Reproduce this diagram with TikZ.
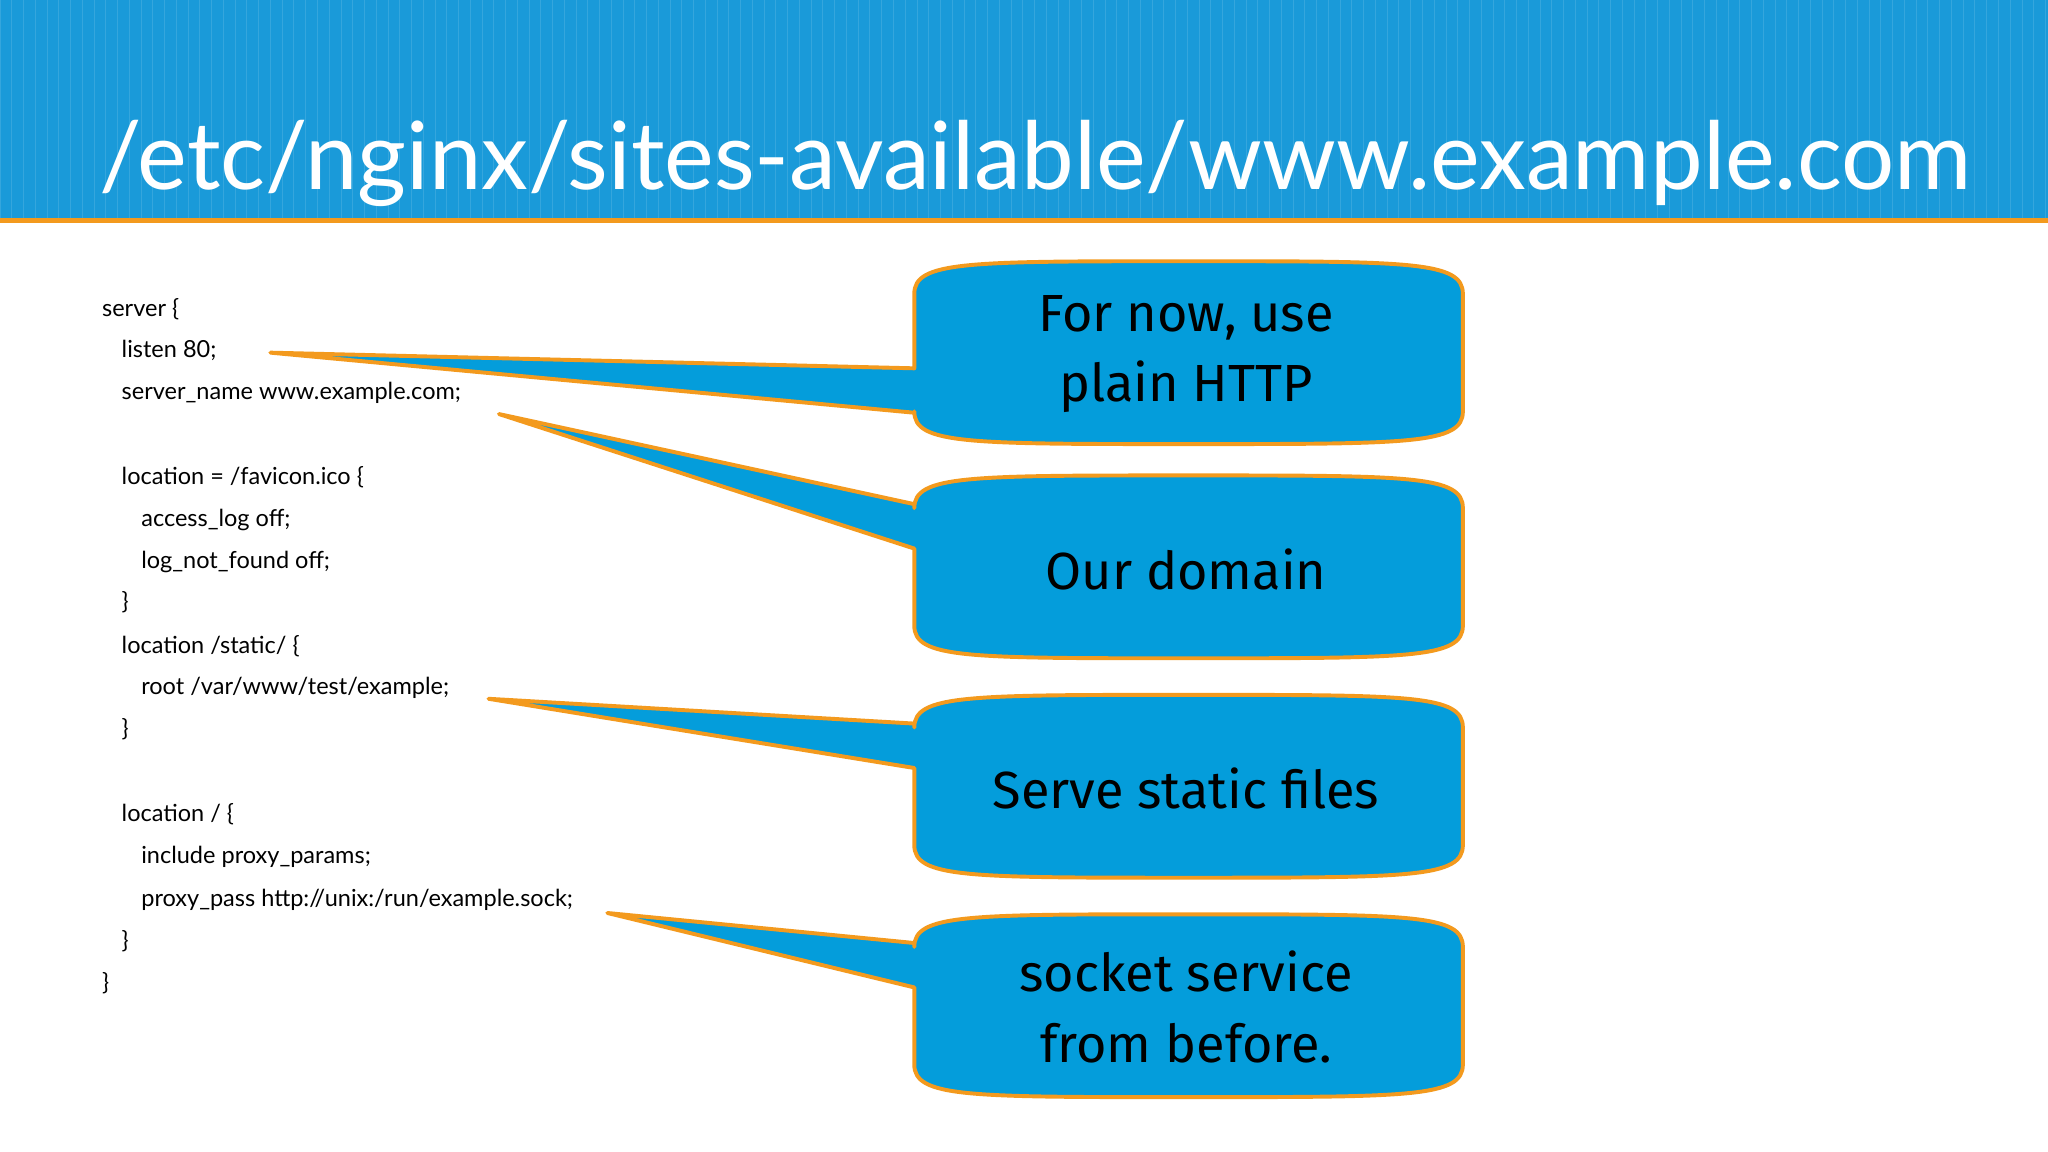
\documentclass[tikz,border=0pt]{standalone}
\usepackage{fontspec}
\setmainfont{Lato}
\newfontfamily\boxfont{Fira Sans}
\definecolor{hdr}{HTML}{1A9AD9}
\definecolor{bub}{HTML}{049DDB}
\definecolor{org}{HTML}{F39A1E}
\tikzset{
 code/.style={anchor=base west,font=\fontsize{18}{20}\selectfont,inner sep=0pt},
 bubble/.style={fill=bub,draw=org,line width=3pt,line join=round},
 btext/.style={font=\boxfont\fontsize{40}{54}\selectfont,align=center,text=black},
}
\newcommand{\callout}[5]{% y top, y bottom, tail y1, tail y2, tip
 \path[bubble] (700,#1+25) .. controls (700,#1) and (740,#1) .. (910,#1)
  .. controls (1080,#1) and (1120,#1) .. (1120,#1+25) -- (1120,#2-25)
  .. controls (1120,#2) and (1080,#2) .. (910,#2)
  .. controls (740,#2) and (700,#2) .. (700,#2-25) -- (700,#4) -- #5 -- (700,#3) -- cycle;}
\begin{document}
\begin{tikzpicture}[x=1pt,y=-1pt]
\useasboundingbox (0,0) rectangle (1568,882);
\fill[white] (0,0) rectangle (1568,882);
\fill[hdr] (0,0) rectangle (1568,168);
\begin{scope}
\clip (0,0) rectangle (1568,168);
\draw[white,opacity=0.12,line width=0.6pt,step=9] (0,0) grid (1568,168);
\end{scope}
\fill[org] (0,167) rectangle (1568,171);
\node[anchor=base west,inner sep=0pt,text=white,font=\fontsize{72}{80}\selectfont] (title) at (76,145) {/etc/nginx/sites-available/www.example.com};
% code
\node[code] (c1) at (78,242) {server \{};
\node[code] (c2) at (93,274) {listen 80;};
\node[code] (c3) at (93,306) {server\_name www.example.com;};
\node[code] (c4) at (93,371) {location = /favicon.ico \{};
\node[code] (c5) at (108,403) {access\_log off;};
\node[code] (c6) at (108,435) {log\_not\_found off;};
\node[code] (c7) at (93,467) {\}};
\node[code] (c8) at (93,500) {location /static/ \{};
\node[code] (c9) at (108,532) {root /var/www/test/example;};
\node[code] (c10) at (93,564) {\}};
\node[code] (c11) at (93,629) {location / \{};
\node[code] (c12) at (108,661) {include proxy\_params;};
\node[code] (c13) at (108,694) {proxy\_pass http://unix:/run/example.sock;};
\node[code] (c14) at (93,726) {\}};
\node[code] (c15) at (78,758) {\}};
% callouts
\coordinate (t1) at (207,270);
\coordinate (t2) at (382,317);
\coordinate (t3) at (374,535);
\coordinate (t4) at (465,699);
\callout{200}{340}{282}{316}{(t1)}
\callout{364}{504}{386}{420}{(t2)}
\callout{532}{672}{554}{588}{(t3)}
\callout{700}{840}{722}{756}{(t4)}
\node[btext] (b1) at (908,271) {For now, use\\plain HTTP};
\node[btext] (b2) at (908,436) {Our domain};
\node[btext] (b3) at (908,604) {Serve static files};
\node[btext] (b4) at (908,771) {socket service\\from before.};
\end{tikzpicture}
\end{document}
